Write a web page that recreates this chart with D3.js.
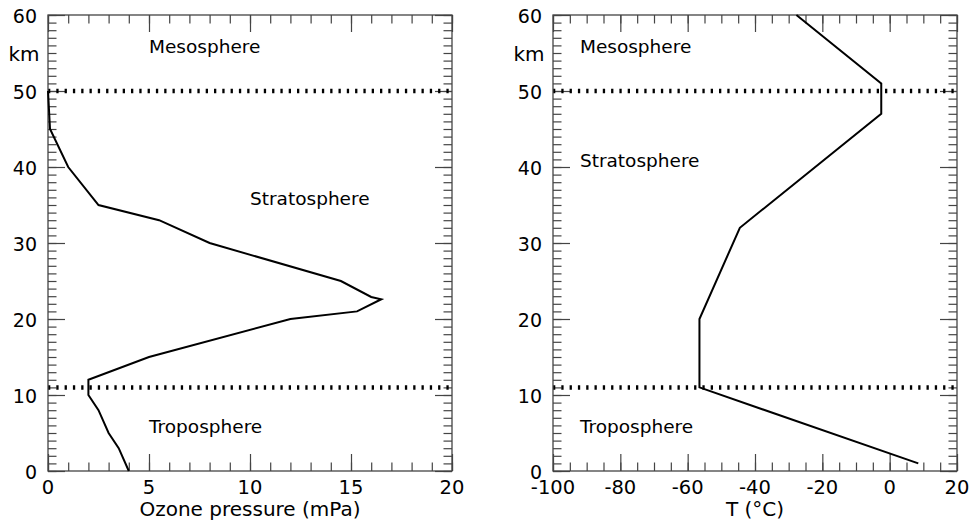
<!DOCTYPE html>
<html lang="en">
<head>
  <meta charset="UTF-8">
  <title>Ozone and temperature profile</title>
  <script src="https://d3js.org/d3.v7.min.js"></script>
  <style>
    body { margin: 0; background: #fff; }
    svg { display: block; font-family: "DejaVu Sans", sans-serif; }
  </style>
</head>
<body>
  <svg id="svgScene" width="971" height="525"></svg>
  <script>
    // ozone partial pressure profile (mPa vs km)
    const ozoneKm  = [0, 3, 5, 8, 10, 12, 15, 20, 21, 22.6, 22.9, 25, 30, 33, 35, 40, 45, 50];
    const ozoneMPa = [4, 3.5, 3, 2.5, 2, 2, 5, 12, 15.3, 16.5, 16, 14.5, 8, 5.5, 2.5, 1, 0.1, 0];

    // temperature profile (°C vs km)
    const tempKm = [1, 11, 20, 32, 47, 51, 60];
    const tempC  = [8.5, -56.5, -56.5, -44.5, -2.5, -2.5, -27.7];

    // layer boundaries (dotted lines), km
    const boundaryKm = [11, 50];

    const layerNames = ["Mesosphere", "Stratosphere", "Troposphere"];
    const ozoneLabelX = [5, 10, 5];
    const ozoneLabelKm = [55, 35, 5];
    const tempLabelX = [-92, -92, -92];
    const tempLabelKm = [55, 40, 5];

    const ozoneTicks = [0, 5, 10, 15, 20];
    const tempTicks = [-100, -80, -60, -40, -20, 0, 20];
    const kmTicks = [0, 10, 20, 30, 40, 50, 60];

    const svgScene = d3.select("#svgScene");
    const yScale = d3.scaleLinear().domain([0, 60]).range([471, 15]);

    const ozoneScale = d3.scaleLinear().domain([0, 20]).range([48, 452]);
    const tempScale = d3.scaleLinear().domain([-100, 20]).range([553, 957]);

    drawPanel(ozoneScale, ozoneTicks, d3.range(0, 21, 1), "Ozone pressure (mPa)");
    drawPanel(tempScale, tempTicks, d3.range(-100, 21, 5), "T (°C)");

    drawProfile(ozoneScale, ozoneMPa, ozoneKm);
    drawProfile(tempScale, tempC, tempKm);

    drawLabels(ozoneScale, ozoneLabelX, ozoneLabelKm);
    drawLabels(tempScale, tempLabelX, tempLabelKm);

    function drawPanel(xScale, majorTicks, minorTicks, title) {
      const [x0, x1] = xScale.range();
      const g = svgScene.append("g");
      const minorLen = -8.5, majorLen = -17;
      const kmMinor = d3.range(0, 61, 1);

      const axes = [
        [d3.axisBottom(xScale), `translate(0,${yScale(0)})`, minorTicks, majorTicks],
        [d3.axisTop(xScale), `translate(0,${yScale(60)})`, minorTicks, majorTicks],
        [d3.axisLeft(yScale), `translate(${x0},0)`, kmMinor, kmTicks],
        [d3.axisRight(yScale), `translate(${x1},0)`, kmMinor, kmTicks]
      ];
      axes.forEach(([axis, tr, minor, major]) => {
        g.append("g").attr("class", "tick-minor").attr("transform", tr)
          .call(axis.tickValues(minor).tickSize(minorLen).tickFormat(""));
        g.append("g").attr("class", "tick-major").attr("transform", tr)
          .call(axis.tickValues(major).tickSize(majorLen).tickFormat(""));
      });
      g.selectAll(".domain").remove();
      g.selectAll(".tick line").attr("stroke", "#444").attr("stroke-width", 1.2);

      // boundary lines
      g.selectAll(".boundary")
        .data(boundaryKm)
        .join("line")
        .attr("class", "boundary")
        .attr("x1", x0).attr("x2", x1)
        .attr("y1", d => yScale(d)).attr("y2", d => yScale(d))
        .attr("stroke", "#000")
        .attr("stroke-width", 4.5)
        .attr("stroke-dasharray", "2.3,6");

      g.append("rect")
        .attr("x", x0).attr("y", yScale(60))
        .attr("width", x1 - x0).attr("height", yScale(0) - yScale(60))
        .attr("fill", "none").attr("stroke", "#444").attr("stroke-width", 1.3);

      // x tick labels
      g.selectAll(".xlab")
        .data(majorTicks)
        .join("text")
        .attr("x", d => xScale(d))
        .attr("y", yScale(0) + 23)
        .attr("text-anchor", "middle")
        .attr("font-size", "19.5px")
        .text(d => d);

      // y tick labels
      g.selectAll(".ylab")
        .data(kmTicks)
        .join("text")
        .attr("x", x0 - 11)
        .attr("y", d => yScale(d) + 7.5)
        .attr("text-anchor", "end")
        .attr("font-size", "19px")
        .text(d => d);

      g.append("text")
        .attr("x", x0 - 24)
        .attr("y", yScale(55) + 8)
        .attr("text-anchor", "middle")
        .attr("font-size", "20px")
        .text("km");

      g.append("text")
        .attr("x", (x0 + x1) / 2)
        .attr("y", yScale(0) + 45)
        .attr("text-anchor", "middle")
        .attr("font-size", "20px")
        .text(title);
    }

    function drawProfile(xScale, xs, kms) {
      const line = d3.line()
        .x(i => xScale(xs[i]))
        .y(i => yScale(kms[i]));

      svgScene.append("path")
        .attr("d", line(d3.range(xs.length)))
        .attr("fill", "none")
        .attr("stroke", "#000")
        .attr("stroke-width", 2)
        .attr("stroke-linejoin", "miter");
    }

    function drawLabels(xScale, xs, kms) {
      svgScene.append("g")
        .selectAll("text")
        .data(layerNames)
        .join("text")
        .attr("x", (d, i) => xScale(xs[i]))
        .attr("y", (d, i) => yScale(kms[i]))
        .attr("font-size", "18.5px")
        .text(d => d);
    }
  </script>
</body>
</html>
